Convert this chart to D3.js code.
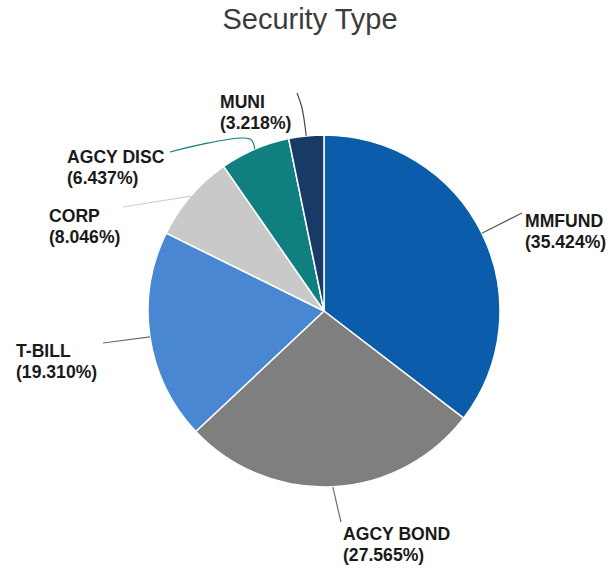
<!DOCTYPE html>
<html>
<head>
<meta charset="utf-8">
<script src="https://cdn.jsdelivr.net/npm/d3@7"></script>
<style>
  html, body { margin: 0; padding: 0; background: #ffffff; }
  svg { display: block; }
  text { font-family: "Liberation Sans", Arial, sans-serif; }
</style>
</head>
<body>
<svg id="chart" width="609" height="571"></svg>
<script>
// Portfolio share by security type, in percent
const categories = ["MMFUND", "AGCY BOND", "T-BILL", "CORP", "AGCY DISC", "MUNI"];
const shares = [35.424, 27.565, 19.310, 8.046, 6.437, 3.218];
const shareLabels = ["35.424%", "27.565%", "19.310%", "8.046%", "6.437%", "3.218%"];

const sliceColors = ["#0b5cab", "#7f7f7f", "#4a87d3", "#c9c9c9", "#0f7f7f", "#173a67"];
const leaderColors = ["#5a5a5a", "#6e6e6e", "#6a6a6a", "#d0d0d0", "#137b7b", "#4a4a4a"];

// Label placement: text origin and elbow points of each leader line
const labelLayout = [
  { x: 525, y: 227, path: [[522, 213]] },
  { x: 343, y: 540, path: [[337, 505], [341, 522]] },
  { x: 16,  y: 357, path: [[103, 343]] },
  { x: 49,  y: 222, path: [[123, 207]] },
  { x: 67,  y: 163, path: [[250, 139], [170, 152]] },
  { x: 220, y: 108, path: [[302, 108], [297, 93]] }
];

const svg = d3.select("#chart");
const cx = 324, cy = 311, radius = 176;

svg.append("text")
  .attr("x", 310)
  .attr("y", 29)
  .attr("text-anchor", "middle")
  .attr("font-size", 29)
  .attr("fill", "#3c3c3c")
  .text("Security Type");

const rows = categories.map((c, i) => ({ name: c, value: shares[i], label: shareLabels[i], i }));

const pie = d3.pie().sort(null).value(d => d.value);
const arcs = pie(rows);
const arc = d3.arc().innerRadius(0).outerRadius(radius);

const g = svg.append("g").attr("transform", `translate(${cx},${cy})`);

g.selectAll("path.slice")
  .data(arcs)
  .join("path")
  .attr("class", "slice")
  .attr("d", arc)
  .attr("fill", d => sliceColors[d.data.i])
  .attr("stroke", "#ffffff")
  .attr("stroke-width", 1.5)
  .attr("stroke-linejoin", "round");

// Leader lines start on the rim at each slice's mid angle
const line = d3.line().curve(d3.curveCatmullRom.alpha(0.5));
arcs.forEach(d => {
  const mid = (d.startAngle + d.endAngle) / 2;
  const start = [cx + radius * Math.sin(mid), cy - radius * Math.cos(mid)];
  const pts = [start].concat(labelLayout[d.data.i].path);
  svg.append("path")
    .attr("d", line(pts))
    .attr("fill", "none")
    .attr("stroke", leaderColors[d.data.i])
    .attr("stroke-width", 1.2);
});

arcs.forEach(d => {
  const L = labelLayout[d.data.i];
  const t = svg.append("text")
    .attr("x", L.x)
    .attr("y", L.y)
    .attr("font-size", 17.6)
    .attr("font-weight", "bold")
    .attr("fill", "#1a1a1a");
  t.append("tspan").attr("x", L.x).text(d.data.name);
  t.append("tspan").attr("x", L.x).attr("dy", 21).text(`(${d.data.label})`);
});
</script>
</body>
</html>
